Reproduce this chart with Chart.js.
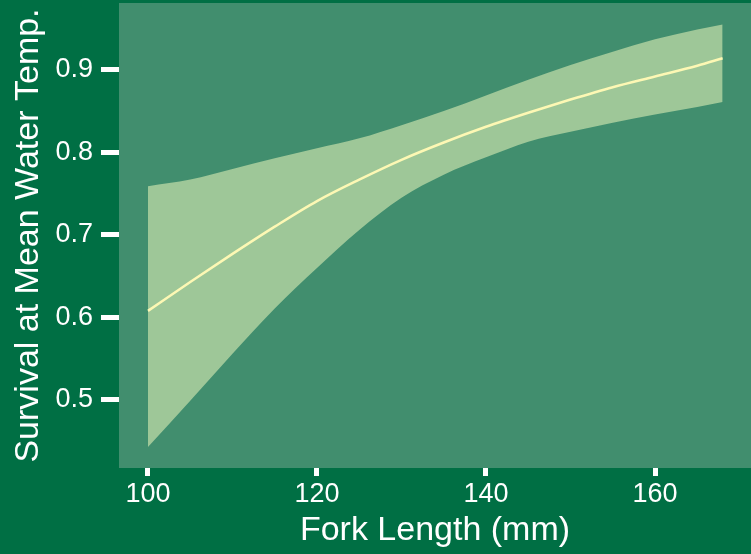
<!DOCTYPE html>
<html>
<head>
<meta charset="utf-8">
<script src="https://cdn.jsdelivr.net/npm/chart.js@4"></script>
<style>
  html, body { margin: 0; padding: 0; background: #006f44; }
  #wrap { width: 751px; height: 554px; }
</style>
</head>
<body>
<div id="wrap"><canvas id="survivalChart" width="751" height="554"></canvas></div>
<script>
// fork length (mm) and fitted survival with confidence band
var forkLength = [100, 105, 110, 115, 120, 125, 130, 135, 140, 145, 150, 155, 160, 165, 168];
var survivalFit = [0.608, 0.643, 0.677, 0.710, 0.741, 0.767, 0.791, 0.812, 0.831, 0.848, 0.864, 0.879, 0.892, 0.905, 0.914];
var survivalUpper = [0.759, 0.767, 0.780, 0.793, 0.805, 0.817, 0.833, 0.850, 0.869, 0.888, 0.906, 0.922, 0.937, 0.949, 0.955];
var survivalLower = [0.443, 0.499, 0.556, 0.611, 0.660, 0.706, 0.745, 0.773, 0.794, 0.813, 0.825, 0.836, 0.846, 0.855, 0.861];
var xTicks = [100, 120, 140, 160];
var yTicks = [0.5, 0.6, 0.7, 0.8, 0.9];

function toPoints(vals) {
    return forkLength.map(function(x, i) { return { x: x, y: vals[i] }; });
}

var bgPlugin = {
    id: 'bg',
    beforeDraw: function(chart) {
        var ctx = chart.ctx, a = chart.chartArea;
        ctx.save();
        ctx.fillStyle = '#006f44';
        ctx.fillRect(0, 0, chart.width, chart.height);
        ctx.fillStyle = '#418e6e';
        ctx.fillRect(a.left, a.top, a.right - a.left, a.bottom - a.top);
        ctx.restore();
    }
};

var font = 'Liberation Sans, Arial, sans-serif';

function noPad(scale) {
    scale.paddingTop = 0;
    scale.paddingBottom = 0;
    scale.paddingLeft = 0;
    scale.paddingRight = 0;
}

var ctx = document.getElementById('survivalChart').getContext('2d');
var survivalChart = new Chart(ctx, {
    type: 'line',
    data: {
        datasets: [{
            label: 'Fit',
            data: toPoints(survivalFit),
            borderColor: '#fdf8b4',
            borderWidth: 2.5,
            pointRadius: 0,
            fill: false,
            cubicInterpolationMode: 'monotone'
        }, {
            label: 'Upper',
            data: toPoints(survivalUpper),
            borderWidth: 0,
            borderColor: 'rgba(0,0,0,0)',
            backgroundColor: '#9ec798',
            pointRadius: 0,
            fill: '+1',
            cubicInterpolationMode: 'monotone'
        }, {
            label: 'Lower',
            data: toPoints(survivalLower),
            borderWidth: 0,
            borderColor: 'rgba(0,0,0,0)',
            pointRadius: 0,
            fill: false,
            cubicInterpolationMode: 'monotone'
        }]
    },
    options: {
        responsive: false,
        animation: false,
        layout: { padding: { top: 3, right: 0, left: 0, bottom: 0 } },
        plugins: {
            legend: { display: false },
            tooltip: { enabled: false }
        },
        scales: {
            x: {
                type: 'linear',
                min: 96.57,
                max: 171.36,
                afterBuildTicks: function(scale) {
                    scale.ticks = xTicks.map(function(v) { return { value: v }; });
                },
                afterFit: function(scale) { scale.height = 86; noPad(scale); },
                grid: {
                    drawOnChartArea: false,
                    drawTicks: true,
                    tickLength: 8,
                    tickWidth: 5,
                    tickColor: '#ffffff'
                },
                border: { display: false },
                ticks: {
                    color: '#ffffff',
                    font: { family: font, size: 27 },
                    padding: 2,
                    maxRotation: 0
                },
                title: {
                    display: true,
                    text: 'Fork Length (mm)',
                    color: '#ffffff',
                    font: { family: font, size: 34 },
                    padding: { top: 0, bottom: 3 }
                }
            },
            y: {
                type: 'linear',
                min: 0.4176,
                max: 0.981,
                afterBuildTicks: function(scale) {
                    scale.ticks = yTicks.map(function(v) { return { value: v }; });
                },
                afterFit: function(scale) { scale.width = 119; noPad(scale); },
                grid: {
                    drawOnChartArea: false,
                    drawTicks: true,
                    tickLength: 18,
                    tickWidth: 5,
                    tickColor: '#ffffff'
                },
                border: { display: false },
                ticks: {
                    color: '#ffffff',
                    font: { family: font, size: 27 },
                    padding: 8,
                    callback: function(v) { return v.toFixed(1); }
                },
                title: {
                    display: true,
                    text: 'Survival at Mean Water Temp.',
                    color: '#ffffff',
                    font: { family: font, size: 34 },
                    padding: { top: 8, bottom: 0 }
                }
            }
        }
    },
    plugins: [bgPlugin]
});
</script>
</body>
</html>
